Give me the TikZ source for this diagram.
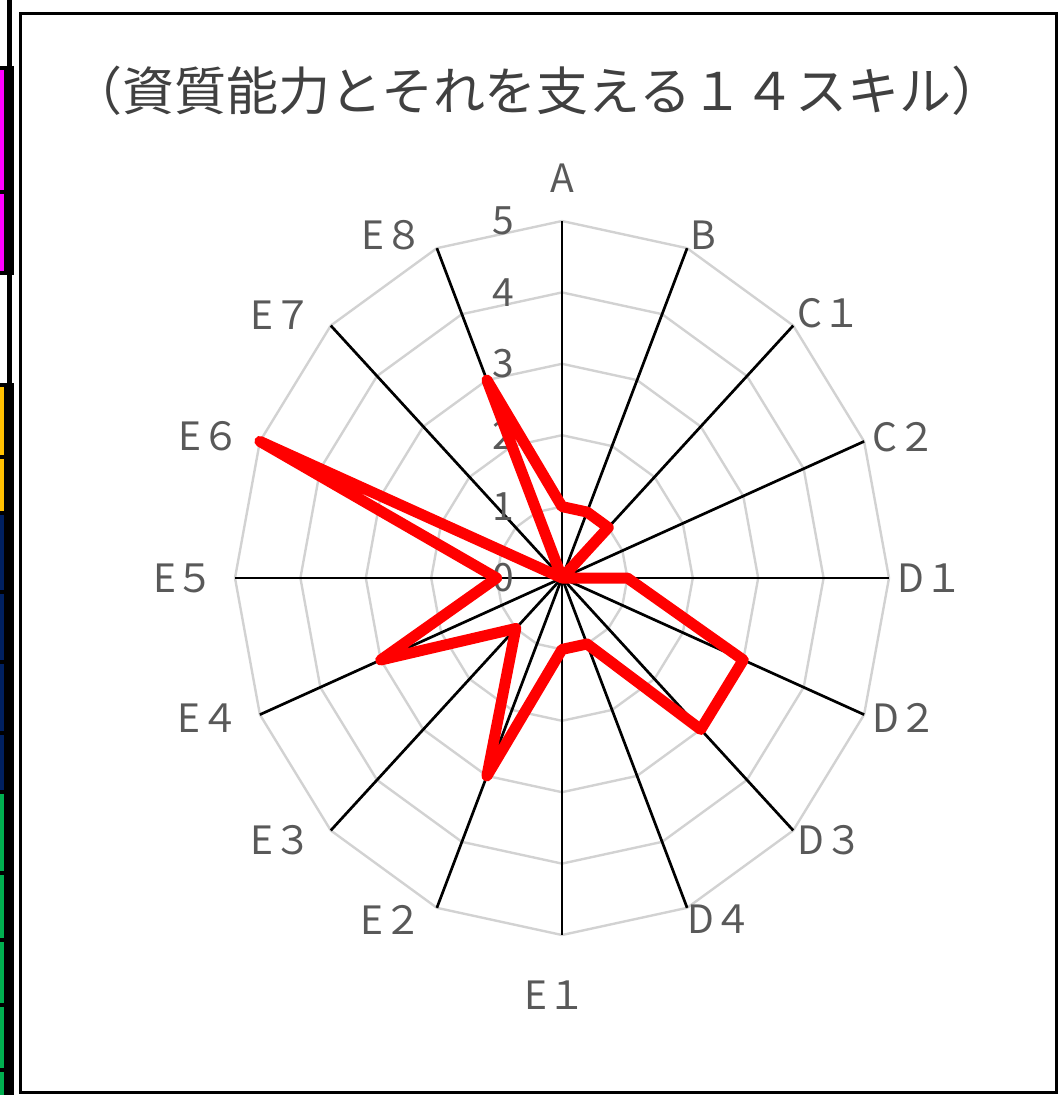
\documentclass[tikz,border=0pt]{standalone}
\usepackage{fontspec}
\newfontfamily\jpfont{Noto Sans CJK JP}
\definecolor{labelgray}{RGB}{89,89,89}
\definecolor{titlegray}{RGB}{64,64,64}
\definecolor{gridgray}{RGB}{210,210,210}
\definecolor{cellmagenta}{RGB}{255,0,255}
\definecolor{cellorange}{RGB}{255,192,0}
\definecolor{cellnavy}{RGB}{0,32,96}
\definecolor{cellgreen}{RGB}{0,176,80}
\tikzset{
  gridline/.style={draw=gridgray, line width=2.4pt},
  spoke/.style={draw=black, line width=2.7pt},
  scoreline/.style={draw=red, line width=11pt, line join=round, line cap=round},
  axislabel/.style={font=\jpfont\fontsize{39}{39}\selectfont, text=labelgray, inner sep=0pt},
  ticklabel/.style={font=\jpfont\fontsize{39}{39}\selectfont, text=labelgray, inner sep=0pt, anchor=east, xshift=-48pt},
  titletext/.style={font=\jpfont\fontsize{52}{52}\selectfont, text=titlegray, inner sep=0pt}
}
\begin{document}
\begin{tikzpicture}[x=1pt,y=-1pt]
  \useasboundingbox (0,0) rectangle (1060,1095);
  % cut-off table column on the left
  \fill[black] (0,66) rectangle (14,275);
  \fill[black] (0,383) rectangle (14,1095);
  \draw[line width=5pt] (9.5,0) -- (9.5,1095);
  \foreach \top/\bot/\col in {70/190/cellmagenta, 194/271/cellmagenta,
      387/455/cellorange, 459/511/cellorange,
      515/590/cellnavy, 594/660/cellnavy, 664/731/cellnavy, 735/790/cellnavy,
      794/871/cellgreen, 875/938/cellgreen, 942/1003/cellgreen, 1007/1068/cellgreen, 1072/1095/cellgreen}
    \fill[\col] (0,\top) rectangle (4,\bot);
  % chart panel
  \draw[line width=3pt] (20,13.5) rectangle (1056,1092);
  \node[titletext] (title) at (537,91) {（資質能力とそれを支える１４スキル）};
  \begin{scope}[shift={(562pt,-578pt)}, x=65.4pt, y=71.4pt]
    % grid
    \foreach \r in {1,...,5}
      \draw[gridline] (90:\r) \foreach \k in {1,...,15} {-- ({90-22.5*\k}:\r)} -- cycle;
    \foreach \k in {0,...,15}
      \draw[spoke] (0,0) -- ({90-22.5*\k}:5);
    % scale
    \foreach \r in {0,...,5}
      \node[ticklabel] (tick\r) at (90:\r) {\r};
    % skill names
    \foreach \name/\txt/\ang/\rad in {A/A/90/5.6, B/B/65.8/5.27, C1/C１/42.2/5.53, C2/C２/20.6/5.6,
        D1/D１/0/5.64, D2/D２/-20.5/5.6, D3/D３/-41.8/5.5, D4/D４/-63.2/5.36,
        E1/E１/-91/5.84, E2/E２/-118.5/5.45, E3/E３/-139.4/5.64, E4/E４/-160/5.75,
        E5/E５/180/5.78, E6/E６/159.8/5.75, E7/E７/139.3/5.65, E8/E８/118.4/5.46}
      \node[axislabel] (lab\name) at (\ang:\rad) {\txt};
    % scores
    \draw[scoreline] (90:1) \foreach \v [count=\k from 0] in {1,1,1,0,1,3,3,1,1,3,1,3,1,5,0,3}
      {-- ({90-22.5*\k}:\v)} -- cycle;
  \end{scope}
\end{tikzpicture}
\end{document}
